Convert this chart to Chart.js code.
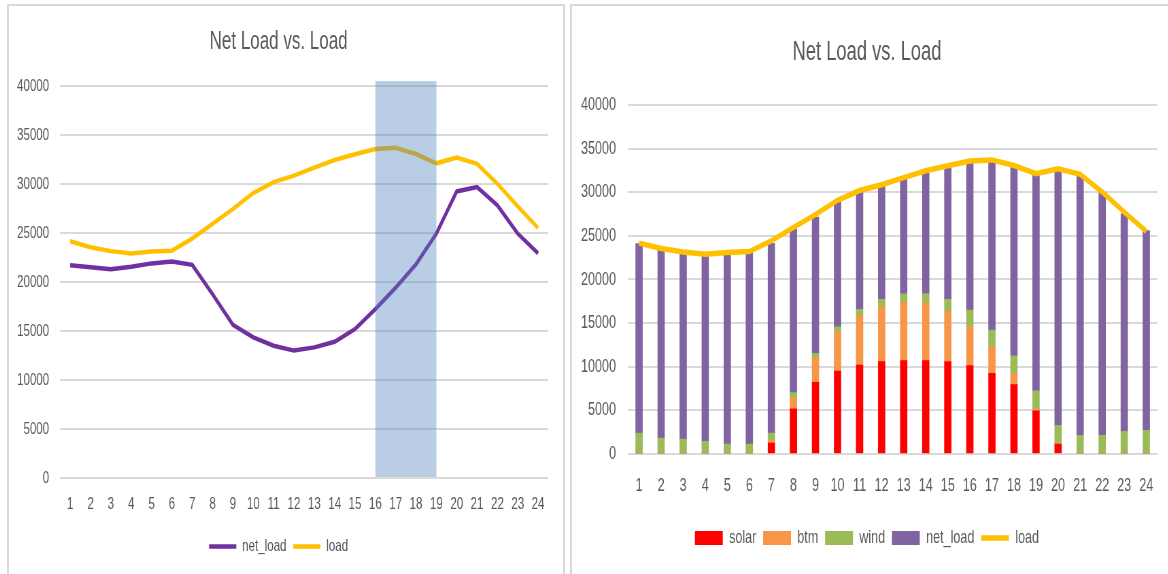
<!DOCTYPE html>
<html>
<head>
<meta charset="utf-8">
<script src="https://cdn.jsdelivr.net/npm/chart.js@4"></script>
<style>
  body { margin: 0; background: #fff; width: 1168px; height: 574px; overflow: hidden; position: relative; }
  .panel { position: absolute; border: 2px solid #d9d9d9; box-sizing: border-box; background: #fff; }
  #leftPanel { left: 7px; top: 4px; width: 558px; height: 590px; }
  #rightPanel { left: 570px; top: 4px; width: 620px; height: 590px; }
  /* the original screenshot is squeezed horizontally, so the charts are too */
  canvas { position: absolute; transform: scaleX(0.68); transform-origin: 0 0; }
  #leftChart { left: 9px; top: 6px; }
  #rightChart { left: 572px; top: 6px; }
</style>
</head>
<body>
<div class="panel" id="leftPanel"></div>
<div class="panel" id="rightPanel"></div>
<canvas id="leftChart" width="813" height="566"></canvas>
<canvas id="rightChart" width="876" height="566"></canvas>
<script>
var hours = ['1','2','3','4','5','6','7','8','9','10','11','12','13','14','15','16','17','18','19','20','21','22','23','24'];
var solar = [0,0,0,0,0,0,1250,5170,8220,9510,10190,10580,10690,10690,10580,10120,9250,7950,4950,1140,0,0,0,0];
var btm = [0,0,0,0,0,0,300,1330,2810,4490,5710,6350,6660,6660,5780,4490,3040,1300,190,40,0,0,0,0];
var wind = [2400,1830,1710,1450,1140,1140,850,530,500,570,690,800,990,1030,1370,1870,1900,2010,2090,2090,2130,2130,2590,2700];
var netLoad = [21700,21500,21300,21550,21900,22100,21750,18750,15630,14350,13500,13000,13330,13900,15200,17230,19420,21800,24940,29240,29680,27820,24940,22910];
var load = [24160,23550,23150,22900,23100,23200,24430,25950,27440,29070,30190,30850,31670,32450,33030,33570,33700,33060,32110,32690,32050,30020,27720,25510];
// shaded peak window (hour labels) on the left chart
var peakStart = '16';
var peakEnd = '19';

var FONT = "'Liberation Sans', Arial, sans-serif";
var GREY = '#595959';

// semi-transparent box over the peak hours, drawn on top of the lines
var peakBox = {
    id: 'peakBox',
    afterDatasetsDraw: function(chart) {
        var x = chart.scales.x, y = chart.scales.y;
        var ctx = chart.ctx;
        var x1 = x.getPixelForValue(hours.indexOf(peakStart));
        var x2 = x.getPixelForValue(hours.indexOf(peakEnd));
        var top = y.getPixelForValue(40500);
        var bottom = y.getPixelForValue(0) - 1;
        ctx.save();
        ctx.fillStyle = 'rgba(79, 129, 189, 0.4)';
        ctx.fillRect(x1, top, x2 - x1, bottom - top);
        ctx.restore();
    }
};

function yAxis(width, pad, size) {
    return {
        min: 0, max: 40000,
        afterFit: function(s) { s.width = width; },
        ticks: { stepSize: 5000, padding: pad, color: GREY, font: { family: FONT, size: size },
                 callback: function(v) { return String(v); } },
        grid: { color: '#d9d9d9', lineWidth: 2, drawTicks: false },
        border: { display: false }
    };
}

function xAxis(height, pad, size) {
    return {
        offset: true,
        afterFit: function(s) { s.height = height; },
        ticks: { padding: pad, color: GREY, font: { family: FONT, size: size }, maxRotation: 0, autoSkip: false },
        grid: { display: false, drawTicks: false },
        border: { display: false }
    };
}

new Chart(document.getElementById('leftChart'), {
    type: 'line',
    data: {
        labels: hours,
        datasets: [{
            label: 'net_load',
            data: netLoad,
            borderColor: '#7030A0',
            backgroundColor: '#7030A0',
            borderWidth: 4.5,
            pointRadius: 0,
            pointStyle: 'line',
            tension: 0
        }, {
            label: 'load',
            data: load,
            borderColor: '#FFC000',
            backgroundColor: '#FFC000',
            borderWidth: 4.5,
            pointRadius: 0,
            pointStyle: 'line',
            tension: 0
        }]
    },
    options: {
        responsive: false,
        animation: false,
        layout: { padding: { left: 0, right: 20, top: 0, bottom: 7 } },
        scales: { x: xAxis(50, 16, 17), y: yAxis(75, 16, 17) },
        plugins: {
            title: { display: true, text: 'Net Load vs. Load', color: GREY,
                     font: { family: FONT, size: 25, weight: 'normal' }, padding: { top: 21, bottom: 29 } },
            legend: { position: 'bottom',
                      labels: { usePointStyle: true, pointStyleWidth: 40, boxHeight: 14, color: GREY,
                                font: { family: FONT, size: 17 }, padding: 10 } },
            tooltip: { enabled: false }
        }
    },
    plugins: [peakBox]
});

function barSet(label, values, color) {
    return { type: 'bar', label: label, data: values, backgroundColor: color, borderWidth: 0,
             pointStyle: 'rect', stack: 'supply', barThickness: 10 };
}

new Chart(document.getElementById('rightChart'), {
    type: 'bar',
    data: {
        labels: hours,
        datasets: [
            barSet('solar', solar, '#FF0000'),
            barSet('btm', btm, '#F79646'),
            barSet('wind', wind, '#9BBB59'),
            barSet('net_load', netLoad, '#8064A2'),
            {
                type: 'line',
                label: 'load',
                data: load,
                stack: 'total',
                order: -1,
                borderColor: '#FFC000',
                backgroundColor: '#FFC000',
                borderWidth: 5.5,
                pointRadius: 0,
                pointStyle: 'line',
                tension: 0
            }
        ]
    },
    options: {
        responsive: false,
        animation: false,
        layout: { padding: { left: 0, right: 8.4, top: 0, bottom: 14.75 } },
        scales: {
            x: Object.assign(xAxis(64.75, 21, 18.5), { stacked: true }),
            y: Object.assign(yAxis(82.4, 17.7, 18.5), { stacked: true })
        },
        plugins: {
            title: { display: true, text: 'Net Load vs. Load', color: GREY,
                     font: { family: FONT, size: 27, weight: 'normal' }, padding: { top: 30, bottom: 36.5 } },
            legend: { position: 'bottom',
                      labels: { usePointStyle: true, pointStyleWidth: 41, boxHeight: 14, color: GREY,
                                font: { family: FONT, size: 18.5 }, padding: 10,
                                sort: function(a, b) { return a.datasetIndex - b.datasetIndex; } } },
            tooltip: { enabled: false }
        }
    }
});
</script>
</body>
</html>
